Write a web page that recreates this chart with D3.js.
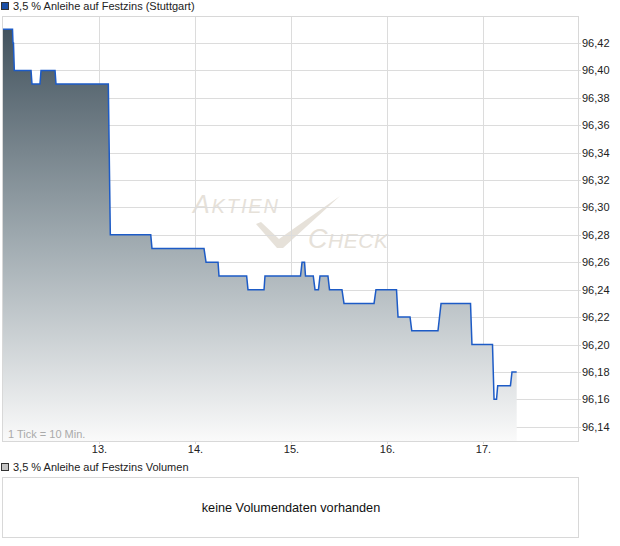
<!DOCTYPE html>
<html>
<head>
<meta charset="utf-8">
<script src="https://cdn.jsdelivr.net/npm/d3@7"></script>
<style>
  html, body { margin: 0; padding: 0; background: #fff; }
  svg { display: block; font-family: "Liberation Sans", Arial, sans-serif; }
</style>
</head>
<body>
<svg id="chart" width="620" height="546"></svg>
<script>
// ---- data (time as fractional day of month, price in EUR) ----
const times = [12.000, 12.099, 12.104, 12.109, 12.118, 12.292, 12.302, 12.385, 12.396, 12.542, 12.552,
  13.097, 13.118, 13.539, 13.552, 14.094, 14.115, 14.240, 14.250, 14.538, 14.552, 14.719, 14.729,
  15.099, 15.115, 15.141, 15.151, 15.232, 15.250, 15.286, 15.302, 15.385, 15.401, 15.531, 15.552,
  15.865, 15.885, 16.099, 16.115, 16.240, 16.258, 16.531, 16.563, 16.870, 16.885, 17.099, 17.115,
  17.141, 17.153, 17.286, 17.302, 17.351];
const prices = [96.43, 96.43, 96.42, 96.42, 96.40, 96.40, 96.39, 96.39, 96.40, 96.40, 96.39,
  96.39, 96.28, 96.28, 96.27, 96.27, 96.26, 96.26, 96.25, 96.25, 96.24, 96.24, 96.25,
  96.25, 96.26, 96.26, 96.25, 96.25, 96.24, 96.24, 96.25, 96.25, 96.24, 96.24, 96.23,
  96.23, 96.24, 96.24, 96.22, 96.22, 96.21, 96.21, 96.23, 96.23, 96.20, 96.20, 96.16,
  96.16, 96.17, 96.17, 96.18, 96.18];
const dayTicks = [13, 14, 15, 16, 17];
const dayLabels = ["13.", "14.", "15.", "16.", "17."];
const priceTicks = [96.14, 96.16, 96.18, 96.20, 96.22, 96.24, 96.26, 96.28, 96.30, 96.32, 96.34, 96.36, 96.38, 96.40, 96.42];
const seriesName = "3,5 % Anleihe auf Festzins (Stuttgart)";
const volumeName = "3,5 % Anleihe auf Festzins Volumen";
const volumeNote = "keine Volumendaten vorhanden";
const tickNote = "1 Tick = 10 Min.";

const data = times.map((t, i) => ({ t, v: prices[i] }));

const svg = d3.select("#chart");
const L = 3, R = 579, T = 16, B = 441;

const x = d3.scaleLinear().domain([12, 18]).range([L, R]);
const y = d3.scaleLinear().domain([96.1296, 96.4397]).range([B, T]);
const fmt = v => d3.format(".2f")(v).replace(".", ",");

// gradient
const defs = svg.append("defs");
const grad = defs.append("linearGradient").attr("id", "fillGrad")
  .attr("x1", 0).attr("y1", 0).attr("x2", 0).attr("y2", 1);
grad.append("stop").attr("offset", "0%").attr("stop-color", "#43535e");
grad.append("stop").attr("offset", "50%").attr("stop-color", "#9da8ae");
grad.append("stop").attr("offset", "100%").attr("stop-color", "#fafafa");

// watermark
const wm = svg.append("g").attr("fill", "#e6e1d9").attr("font-style", "italic");
const t1 = wm.append("text").attr("x", 193).attr("y", 213)
  .attr("textLength", 85).attr("lengthAdjust", "spacing");
t1.append("tspan").attr("font-size", 25).text("A");
t1.append("tspan").attr("font-size", 20).text("KTIEN");
const t2 = wm.append("text").attr("x", 308).attr("y", 248)
  .attr("textLength", 80).attr("lengthAdjust", "spacing");
t2.append("tspan").attr("font-size", 27).text("C");
t2.append("tspan").attr("font-size", 21).text("HECK");
wm.append("path").attr("d", "M256,224 L261,222 L279,239 L340,196 L283,248 L277,248 Z");

// grid
const grid = svg.append("g").attr("stroke", "#dcdcdc").attr("stroke-width", 1);
grid.selectAll("line.h").data(priceTicks).join("line")
  .attr("x1", L).attr("x2", R + 2)
  .attr("y1", d => Math.round(y(d)) + 0.5).attr("y2", d => Math.round(y(d)) + 0.5);
grid.selectAll("line.v").data(dayTicks).join("line")
  .attr("x1", d => Math.round(x(d)) + 0.5).attr("x2", d => Math.round(x(d)) + 0.5)
  .attr("y1", T).attr("y2", B + 3);

// area + line
const area = d3.area().x(d => x(d.t)).y0(B).y1(d => y(d.v));
const line = d3.line().x(d => x(d.t)).y(d => y(d.v));
svg.append("path").datum(data).attr("d", area).attr("fill", "url(#fillGrad)");
svg.append("path").datum(data).attr("d", line)
  .attr("fill", "none").attr("stroke", "#1d5bc6").attr("stroke-width", 1.5)
  .attr("stroke-linejoin", "miter");

// frame
svg.append("rect").attr("x", L - 0.5).attr("y", T + 0.5).attr("width", R - L).attr("height", B - T)
  .attr("fill", "none").attr("stroke", "#d8d8d8");

// y labels
svg.append("g").selectAll("text").data(priceTicks).join("text")
  .attr("x", 582).attr("y", d => y(d) + 4)
  .attr("font-size", 11).attr("fill", "#222").text(fmt);

// x labels
svg.append("g").selectAll("text").data(dayTicks).join("text")
  .attr("x", d => x(d) + 0.5).attr("y", 453).attr("text-anchor", "middle")
  .attr("font-size", 11).attr("fill", "#222").text((d, i) => dayLabels[i]);

// tick note
svg.append("text").attr("x", 8).attr("y", 438).attr("font-size", 11)
  .attr("fill", "#aaa").text(tickNote);

// legend
svg.append("rect").attr("x", 1.5).attr("y", 2.5).attr("width", 7).attr("height", 7)
  .attr("fill", "#1a4fa6").attr("stroke", "#333");
svg.append("text").attr("x", 13).attr("y", 10).attr("font-size", 11).attr("fill", "#222").text(seriesName);

// volume panel
svg.append("rect").attr("x", 1.5).attr("y", 463.5).attr("width", 7).attr("height", 7)
  .attr("fill", "#c4c4c4").attr("stroke", "#333");
svg.append("text").attr("x", 13).attr("y", 471).attr("font-size", 11).attr("fill", "#222").text(volumeName);
svg.append("rect").attr("x", L - 0.5).attr("y", 477.5).attr("width", R - L).attr("height", 60)
  .attr("fill", "none").attr("stroke", "#d8d8d8");
svg.append("text").attr("x", 291).attr("y", 512).attr("text-anchor", "middle")
  .attr("font-size", 12.7).attr("fill", "#111").text(volumeNote);
</script>
</body>
</html>
